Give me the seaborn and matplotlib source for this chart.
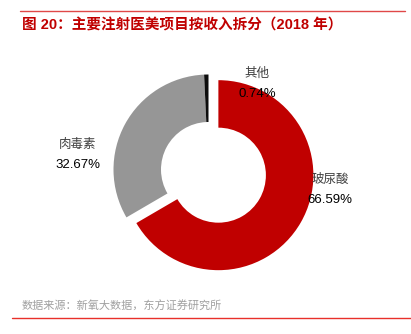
import matplotlib
matplotlib.use("Agg")
import matplotlib.pyplot as plt
import seaborn as sns
from matplotlib.lines import Line2D

sns.set_theme(style="white")
plt.rcParams['font.family'] = ['Liberation Sans', 'Noto Sans CJK SC', 'DejaVu Sans']

# Data
categories = ["玻尿酸", "肉毒素", "其他"]
shares = [66.59, 32.67, 0.74]
pct_labels = ["66.59%", "32.67%", "0.74%"]
colors = ["#C00000", "#969696", "#0D0D0D"]
explode = [0.12, 0.0, 0.0]

title = "图 20：主要注射医美项目按收入拆分（2018 年）"
source = "数据来源：新氧大数据，东方证券研究所"

W, H = 411, 334
fig = plt.figure(figsize=(W / 100, H / 100), dpi=100)

# axes centered on donut centre (208.5, 169.5 px from top), 300x300 px box
cx, cy, box = 208.5, 169.5, 300
ax = fig.add_axes([(cx - box / 2) / W, (H - cy - box / 2) / H, box / W, box / H])
ax.pie(shares, colors=colors, explode=explode, startangle=90, counterclock=False,
       wedgeprops=dict(width=0.5, linewidth=0))
lim = (box / 2) / 95.0
ax.set_aspect('auto')
ax.set_xlim(-lim, lim)
ax.set_ylim(-lim, lim)
ax.axis('off')

# label positions (data units, radius = 1)
label_pos = {"玻尿酸": (1.279, -0.216), "肉毒素": (-1.374, 0.153), "其他": (0.51, 0.90)}
off = 10 / 95.0
for cat, pct in zip(categories, pct_labels):
    x, y = label_pos[cat]
    ax.text(x, y + off, cat, ha='center', va='center', fontsize=9, color='#404040')
    ax.text(x, y - off, pct, ha='center', va='center', fontsize=9.5, color='#000000')

# Title and decoration
fig.add_artist(Line2D([20 / W, 405 / W], [1 - 11 / H, 1 - 11 / H], color='#E04848', lw=1))
fig.text(22 / W, 1 - 25 / H, title, ha='left', va='center', fontsize=10.5,
         fontweight='bold', color='#C00000')
fig.text(22 / W, 1 - 306 / H, source, ha='left', va='center', fontsize=8, color='#A0A0A0')
fig.add_artist(Line2D([12 / W, 411 / W], [1 - 318 / H, 1 - 318 / H], color='#E8302A', lw=1))

fig.savefig("out.png", dpi=100)
